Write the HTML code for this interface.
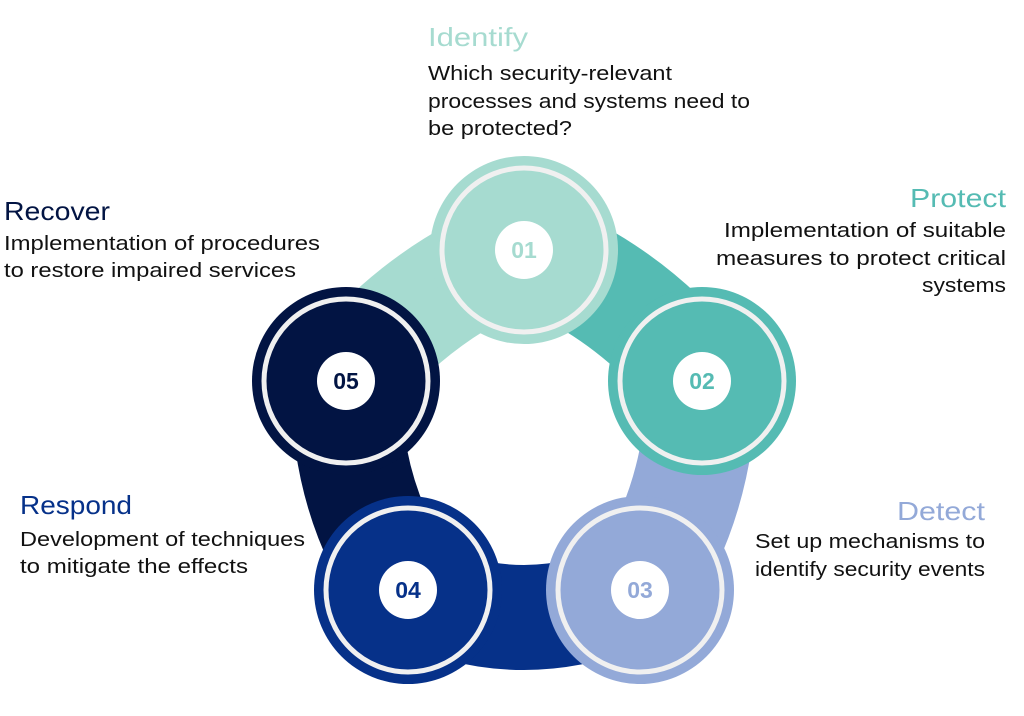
<!DOCTYPE html>
<html><head><meta charset="utf-8"><style>
html,body{margin:0;padding:0;background:#fff;}
svg{display:block;}
text{font-family:"Liberation Sans",sans-serif;}
.t{font-size:26px;}
.b{font-size:20px;fill:#111;}
.n{font-size:23px;font-weight:bold;text-anchor:middle;}
</style></head><body>
<svg width="1024" height="716" viewBox="0 0 1024 716" xmlns="http://www.w3.org/2000/svg">
<g fill="none" stroke-linecap="butt">
<path d="M524 250 Q420 290 346 381" stroke="#a6dbd0" stroke-width="110"/>
<path d="M524 250 Q630 290 702 381" stroke="#55bbb3" stroke-width="110"/>
<path d="M702 381 Q700 500 640 590" stroke="#93a9d8" stroke-width="110"/>
<path d="M640 590 Q524 645 408 590" stroke="#063189" stroke-width="105"/>
<path d="M408 590 Q345 500 346 381" stroke="#021443" stroke-width="110"/>
</g>
<g>
<circle cx="702" cy="381" r="94" fill="#55bbb3"/>
<circle cx="702" cy="381" r="82" fill="none" stroke="#f0f0f0" stroke-width="5"/>
<circle cx="640" cy="590" r="94" fill="#93a9d8"/>
<circle cx="640" cy="590" r="82" fill="none" stroke="#f0f0f0" stroke-width="5"/>
<circle cx="408" cy="590" r="94" fill="#063189"/>
<circle cx="408" cy="590" r="82" fill="none" stroke="#f0f0f0" stroke-width="5"/>
<circle cx="346" cy="381" r="94" fill="#021443"/>
<circle cx="346" cy="381" r="82" fill="none" stroke="#f0f0f0" stroke-width="5"/>
<circle cx="524" cy="250" r="94" fill="#a6dbd0"/>
<circle cx="524" cy="250" r="82" fill="none" stroke="#f0f0f0" stroke-width="5"/>
</g>
<g fill="#fff">
<circle cx="524" cy="250" r="29"/>
<circle cx="702" cy="381" r="29"/>
<circle cx="640" cy="590" r="29"/>
<circle cx="408" cy="590" r="29"/>
<circle cx="346" cy="381" r="29"/>
</g>
<text class="n" x="524" y="258" fill="#a6dbd0">01</text>
<text class="n" x="702" y="389" fill="#55bbb3">02</text>
<text class="n" x="640" y="598" fill="#93a9d8">03</text>
<text class="n" x="408" y="598" fill="#063189">04</text>
<text class="n" x="346" y="389" fill="#021443">05</text>

<text class="t" x="428" y="46" fill="#a6dbd0" textLength="100" lengthAdjust="spacingAndGlyphs">Identify</text>
<text class="b" x="428" y="80" textLength="244" lengthAdjust="spacingAndGlyphs">Which security-relevant</text>
<text class="b" x="428" y="108" textLength="322" lengthAdjust="spacingAndGlyphs">processes and systems need to</text>
<text class="b" x="428" y="135" textLength="144" lengthAdjust="spacingAndGlyphs">be protected?</text>
<text class="t" x="1006" y="207" text-anchor="end" fill="#55bbb3" textLength="96" lengthAdjust="spacingAndGlyphs">Protect</text>
<text class="b" x="1006" y="237" text-anchor="end" textLength="282" lengthAdjust="spacingAndGlyphs">Implementation of suitable</text>
<text class="b" x="1006" y="265" text-anchor="end" textLength="290" lengthAdjust="spacingAndGlyphs">measures to protect critical</text>
<text class="b" x="1006" y="292" text-anchor="end" textLength="84" lengthAdjust="spacingAndGlyphs">systems</text>
<text class="t" x="4" y="220" fill="#021443" textLength="106" lengthAdjust="spacingAndGlyphs">Recover</text>
<text class="b" x="4" y="250" textLength="316" lengthAdjust="spacingAndGlyphs">Implementation of procedures</text>
<text class="b" x="4" y="277" textLength="292" lengthAdjust="spacingAndGlyphs">to restore impaired services</text>
<text class="t" x="985" y="520" text-anchor="end" fill="#93a9d8" textLength="88" lengthAdjust="spacingAndGlyphs">Detect</text>
<text class="b" x="985" y="548" text-anchor="end" textLength="230" lengthAdjust="spacingAndGlyphs">Set up mechanisms to</text>
<text class="b" x="985" y="576" text-anchor="end" textLength="230" lengthAdjust="spacingAndGlyphs">identify security events</text>
<text class="t" x="20" y="514" fill="#063189" textLength="112" lengthAdjust="spacingAndGlyphs">Respond</text>
<text class="b" x="20" y="546" textLength="285" lengthAdjust="spacingAndGlyphs">Development of techniques</text>
<text class="b" x="20" y="573" textLength="228" lengthAdjust="spacingAndGlyphs">to mitigate the effects</text>
</svg>
</body></html>
